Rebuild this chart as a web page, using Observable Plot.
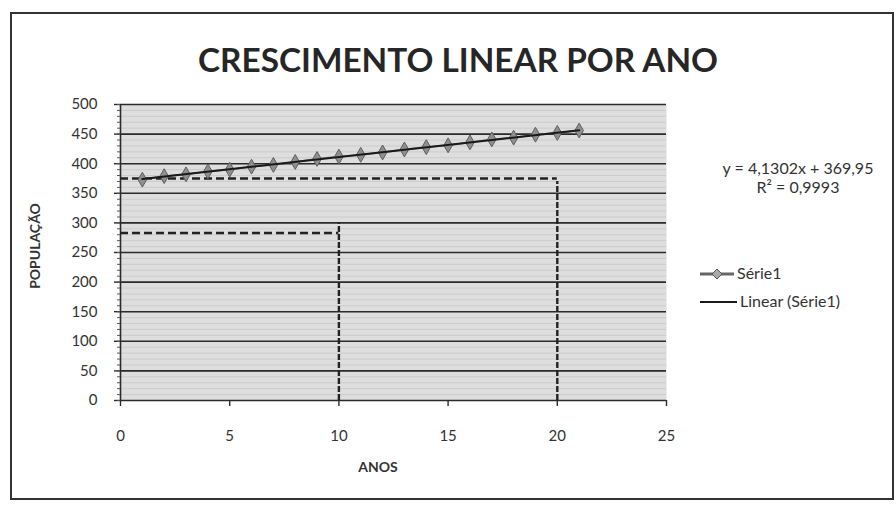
<!DOCTYPE html>
<html>
<head>
<meta charset="utf-8">
<script src="https://cdn.jsdelivr.net/npm/d3@7"></script>
<script src="https://cdn.jsdelivr.net/npm/@observablehq/plot@0.6"></script>
<style>
  html, body { margin: 0; padding: 0; background: #fff; }
  #wrap { position: relative; width: 896px; height: 505px; overflow: hidden; font-family: Lato, "Open Sans", sans-serif; color: #333; }
  #wrap > svg { position: absolute; left: 0; top: 0; }
</style>
</head>
<body>
<div id="wrap"></div>
<script>
// ---- data ----
const anos = [1, 2, 3, 4, 5, 6, 7, 8, 9, 10, 11, 12, 13, 14, 15, 16, 17, 18, 19, 20, 21];
const populacao = [373, 379, 382, 387, 390, 395, 398, 403, 408, 412, 415, 419, 424, 428, 431, 436, 441, 444, 449, 452, 456];
const yTicks = [0, 50, 100, 150, 200, 250, 300, 350, 400, 450, 500];
const yMinor = d3.range(0, 501, 10);
const xTicks = [0, 5, 10, 15, 20, 25];
const guideX = [10, 20];
const guideY = [283, 375];
const guideTop = [300, 370];
const titulo = "CRESCIMENTO LINEAR POR ANO";
const eixoX = "ANOS";
const eixoY = "POPULAÇÃO";
const equacao = "y = 4,1302x + 369,95";
const r2 = "R² = 0,9993";
const serieNome = "Série1";
const linearNome = "Linear (Série1)";

const data = anos.map((x, i) => ({x, y: populacao[i]}));
const guides = guideX.map((x, i) => ({x, y: guideY[i], top: guideTop[i]}));

const chart = Plot.plot({
  width: 896,
  height: 505,
  marginLeft: 120,
  marginRight: 230,
  marginTop: 104,
  marginBottom: 105,
  x: {domain: [0, 25]},
  y: {domain: [0, 500]},
  style: {fontFamily: "Lato, 'Open Sans', sans-serif", fontSize: "15px", color: "#333", background: "transparent"},
  marks: [
    Plot.frame({fill: "#dedede", stroke: null}),
    Plot.ruleY(yMinor, {stroke: "#c0c0c0", strokeWidth: 0.6}),
    Plot.ruleY(yTicks, {stroke: "#2b2b2b", strokeWidth: 1.6}),
    Plot.ruleX([0], {stroke: "#2b2b2b", strokeWidth: 1.6}),
    Plot.axisY({ticks: yTicks, tickSize: 6, tickPadding: 17, label: null, stroke: "#2b2b2b", strokeWidth: 1.4, fill: "#333"}),
    Plot.axisY({ticks: yMinor, tickSize: 3, text: null, label: null, stroke: "#555"}),
    Plot.axisX({ticks: xTicks, tickSize: 6, tickPadding: 24, label: null, stroke: "#2b2b2b", strokeWidth: 1.4, fill: "#333"}),
    Plot.ruleY(guides, {y: "y", x1: 0, x2: "x", stroke: "#222", strokeWidth: 2.4, strokeDasharray: "8,4"}),
    Plot.ruleX(guides, {x: "x", y1: 0, y2: "top", stroke: "#222", strokeWidth: 2.4, strokeDasharray: "6,2"}),
    Plot.line(data, {x: "x", y: "y", stroke: "#7a7a7a", strokeWidth: 1.8}),
    Plot.dot(data, {x: "x", y: "y", symbol: "diamond", r: 4.5, fill: "#8f8f8f", stroke: "#5e5e5e", strokeWidth: 1}),
    Plot.linearRegressionY(data, {x: "x", y: "y", ci: 0, stroke: "#1a1a1a", strokeWidth: 2})
  ]
});

const wrap = document.getElementById("wrap");
wrap.appendChild(chart);

const ns = "http://www.w3.org/2000/svg";
const ov = document.createElementNS(ns, "svg");
ov.setAttribute("width", 896);
ov.setAttribute("height", 505);
ov.style.position = "absolute";
ov.style.left = "0";
ov.style.top = "0";
ov.style.pointerEvents = "none";
ov.innerHTML = `
  <rect x="11" y="13" width="882" height="486" fill="none" stroke="#333" stroke-width="2"/>
  <text id="tt" x="458" y="72" text-anchor="middle" font-family="Lato, 'Open Sans', sans-serif" font-weight="bold" font-size="33" fill="#262626" textLength="520" lengthAdjust="spacingAndGlyphs"></text>
  <text id="ax" x="378" y="472" text-anchor="middle" font-family="Lato, sans-serif" font-weight="bold" font-size="14" fill="#333"></text>
  <text id="ay" transform="translate(40,246) rotate(-90)" text-anchor="middle" font-family="Lato, sans-serif" font-weight="bold" font-size="14" fill="#333"></text>
  <text id="eq" x="798" y="174" text-anchor="middle" font-family="Lato, sans-serif" font-size="16" fill="#333"></text>
  <text id="r2" x="798" y="193" text-anchor="middle" font-family="Lato, sans-serif" font-size="16" fill="#333"></text>
  <line x1="700" y1="274" x2="734" y2="274" stroke="#666" stroke-width="3"/>
  <path d="M717,269 L722,274 L717,279 L712,274 Z" fill="#aaa" stroke="#555" stroke-width="1"/>
  <text id="s1" x="737" y="279" font-family="Lato, sans-serif" font-size="16" fill="#333"></text>
  <line x1="700" y1="302" x2="737" y2="302" stroke="#1a1a1a" stroke-width="2"/>
  <text id="s2" x="740" y="307" font-family="Lato, sans-serif" font-size="16" fill="#333"></text>
`;
wrap.appendChild(ov);
ov.querySelector("#tt").textContent = titulo;
ov.querySelector("#ax").textContent = eixoX;
ov.querySelector("#ay").textContent = eixoY;
ov.querySelector("#eq").textContent = equacao;
ov.querySelector("#r2").textContent = r2;
ov.querySelector("#s1").textContent = serieNome;
ov.querySelector("#s2").textContent = linearNome;
</script>
</body>
</html>
